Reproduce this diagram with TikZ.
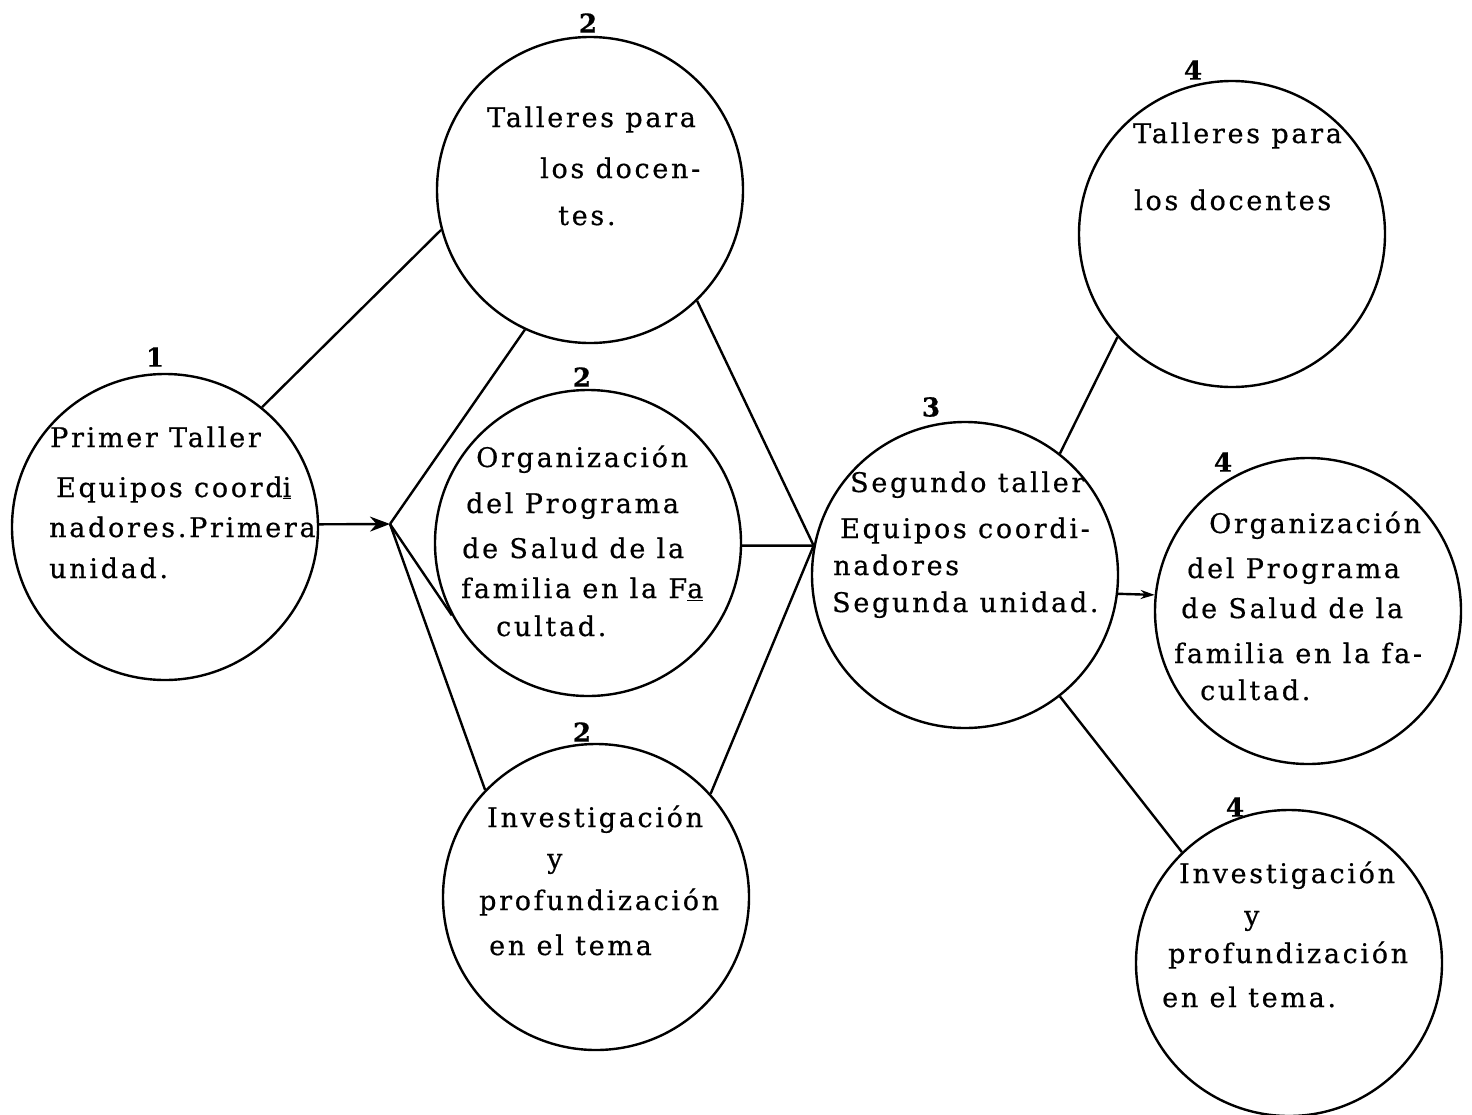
\documentclass[tikz,border=0pt]{standalone}
\usepackage{fontspec}
\setmainfont{DejaVu Serif}[LetterSpace=10,FakeBold=0.6]
\usetikzlibrary{arrows.meta}
\begin{document}
\begin{tikzpicture}[x=1pt,y=-1pt,
  bub/.style={circle,draw,line width=2.4pt,minimum size=306pt,inner sep=0pt},
  txt/.style={anchor=base west,inner sep=0pt,font=\fontsize{27}{30}\selectfont},
  num/.style={inner sep=0pt,font=\fontsize{26}{28}\selectfont\bfseries},
  link/.style={line width=2.4pt},
]
\useasboundingbox (0,0) rectangle (1472,1114);
\fill[white] (0,0) rectangle (1472,1114);

% circles
\node[bub] (c1)  at (165,527) {};
\node[bub] (c2t) at (590,190) {};
\node[bub] (c2m) at (588,543) {};
\node[bub] (c2b) at (596,897) {};
\node[bub] (c3)  at (965,575) {};
\node[bub] (c4t) at (1232,234) {};
\node[bub] (c4m) at (1308,611) {};
\node[bub] (c4b) at (1289,963) {};

% numbers
\node[num] (n1)  at (155,357) {1};
\node[num] (n2t) at (588,23) {2};
\node[num] (n2m) at (582,377) {2};
\node[num] (n2b) at (582,732) {2};
\node[num] (n3)  at (931,407) {3};
\node[num] (n4t) at (1193,70) {4};
\node[num] (n4m) at (1223,462) {4};
\node[num] (n4b) at (1235,807) {4};

% texts circle 1
\node[txt] (t1a) at (50,447) {Primer Taller};
\node[txt] (t1b) at (56,497) {Equipos coord\underline{i}};
\node[txt] (t1c) at (49,537) {nadores.Primera};
\node[txt] (t1d) at (49,578) {unidad.};
% circle 2 top
\node[txt] (t2a) at (487,127) {Talleres para};
\node[txt] (t2b) at (540,178) {los docen-};
\node[txt] (t2c) at (558,225) {tes.};
% circle 2 mid
\node[txt] (t3a) at (476,467) {Organización};
\node[txt] (t3b) at (466,513) {del Programa};
\node[txt] (t3c) at (462,558) {de Salud de la};
\node[txt] (t3d) at (461,598) {familia en la F\underline{a}};
\node[txt] (t3e) at (496,636) {cultad.};
% circle 2 bottom
\node[txt] (t4a) at (487,827) {Investigación};
\node[txt] (t4b) at (547,868) {y};
\node[txt] (t4c) at (479,910) {profundización};
\node[txt] (t4d) at (489,955) {en el tema};
% circle 3
\node[txt] (t5a) at (850,492) {Segundo taller};
\node[txt] (t5b) at (840,538) {Equipos coordi-};
\node[txt] (t5c) at (833,575) {nadores};
\node[txt] (t5d) at (832,612) {Segunda unidad.};
% circle 4 top
\node[txt] (t6a) at (1133,143) {Talleres para};
\node[txt] (t6b) at (1134,210) {los docentes};
% circle 4 mid
\node[txt] (t7a) at (1209,533) {Organización};
\node[txt] (t7b) at (1187,578) {del Programa};
\node[txt] (t7c) at (1181,618) {de Salud de la};
\node[txt] (t7d) at (1174,663) {familia en la fa-};
\node[txt] (t7e) at (1200,700) {cultad.};
% circle 4 bottom
\node[txt] (t8a) at (1179,883) {Investigación};
\node[txt] (t8b) at (1244,925) {y};
\node[txt] (t8c) at (1168,963) {profundización};
\node[txt] (t8d) at (1162,1007) {en el tema.};

% connectors
\coordinate (J) at (390,524);
\coordinate (K) at (c3.169);
\draw[link] (c1.51) -- (c2t.195);
\draw[link,-{Stealth[length=20pt,width=15pt]}] (c1.1.5) -- (J);
\draw[link] (J) -- (c2t.245);
\draw[link] (J) -- (c2m.208);
\draw[link] (J) -- (c2b.136);
\draw[link] (c2t.-46.6) -- (K);
\draw[link] (c2m.-1) -- (K);
\draw[link] (c2b.42.6) -- (K);
\draw[link] (c3.52.6) -- (c4t.222.8);
\draw[link,-{Stealth[length=14pt,width=9pt]}] (c3.-7.6) -- (c4m.174.8);
\draw[link] (c3.-52.7) -- (c4b.134.2);
\end{tikzpicture}
\end{document}
